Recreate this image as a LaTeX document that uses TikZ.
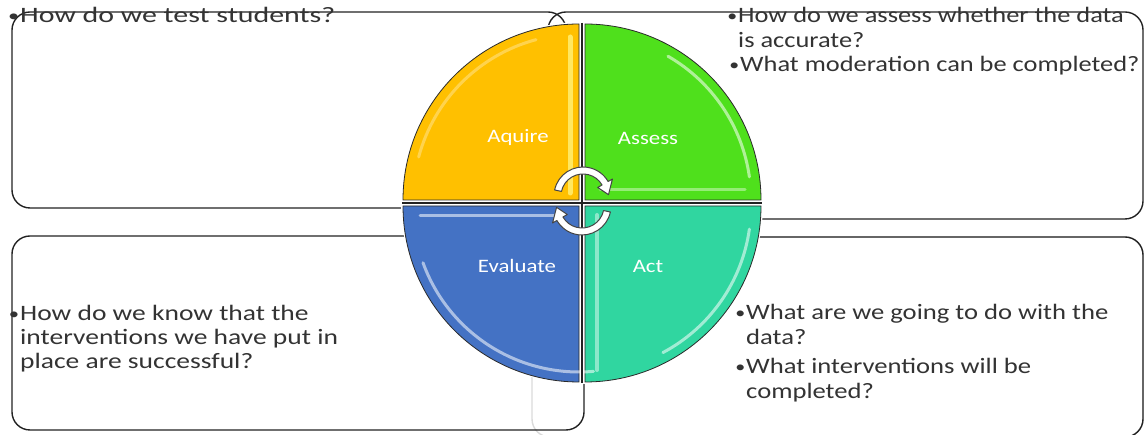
\documentclass[tikz,border=0pt]{standalone}
\usepackage{fontspec}
\setmainfont{Carlito}
\newfontfamily\tlfont[FakeStretch=1.36]{Carlito}
\newfontfamily\trfont[FakeStretch=1.2]{Carlito}
\newfontfamily\blfont[FakeStretch=1.25]{Carlito}
\newfontfamily\brfont[FakeStretch=1.21]{Carlito}
\newfontfamily\labfont[FakeStretch=1.2]{Carlito}
\usetikzlibrary{calc}
\definecolor{qorange}{HTML}{FFC000}
\definecolor{qgreen}{HTML}{4FE01C}
\definecolor{qblue}{HTML}{4472C4}
\definecolor{qteal}{HTML}{30D6A0}
\definecolor{boxline}{HTML}{222222}
\definecolor{textgray}{HTML}{333333}
\definecolor{quadline}{HTML}{2A2A2A}
\definecolor{faintline}{HTML}{DADADA}
\definecolor{arrowline}{HTML}{444444}
\definecolor{glossyellow}{HTML}{FFF27A}
\begin{document}
\begin{tikzpicture}[x=1pt,y=1pt,
  qbox/.style={draw=boxline, line width=1.4pt, rounded corners=18pt},
  txt/.style={anchor=base west, inner sep=0pt, text=textgray},
  tltxt/.style={txt, font=\tlfont\fontsize{22}{25}\selectfont},
  trtxt/.style={txt, font=\trfont\fontsize{22}{25}\selectfont},
  bltxt/.style={txt, font=\blfont\fontsize{22}{25}\selectfont},
  brtxt/.style={txt, font=\brfont\fontsize{22}{25}\selectfont},
  lab/.style={text=white, font=\labfont\fontsize{19}{22}\selectfont, inner sep=0pt},
  quad/.style={draw=quadline, line width=0.8pt},
  gloss/.style={line width=3pt, line cap=round, draw opacity=0.55},
  arrowshape/.style={fill=white, draw=arrowline, line width=1pt, line join=round}]
\useasboundingbox (0,0) rectangle (1146,435);
\clip (0,0) rectangle (1146,435);
\newcommand{\bul}{\llap{\raisebox{1.5pt}{\scalebox{0.75}{\textbullet}}\hspace{1pt}}}
% boxes
\draw[qbox] (12,227) rectangle (566,423);
\draw[qbox] (548,216) rectangle (1143,423);
\draw[qbox, draw=faintline] (532,-2) rectangle (1143,198);
\draw[qbox] (560,198) -- (1143,198) -- (1143,-2) -- (1000,-2);
\draw[qbox] (12,5) rectangle (584,199);
% texts
\node[tltxt] (tl1) at (20,412) {\bul How do we test students?};
\node[trtxt] (tr1) at (738,412) {\bul How do we assess whether the data};
\node[trtxt] (tr2) at (738,387) {is accurate?};
\node[trtxt] (tr3) at (740,363) {\bul What moderation can be completed?};
\node[bltxt] (bl1) at (20,114) {\bul How do we know that the};
\node[bltxt] (bl2) at (20,90) {interventions we have put in};
\node[bltxt] (bl3) at (20,66) {place are successful?};
\node[brtxt] (br1) at (746,115) {\bul What are we going to do with the};
\node[brtxt] (br2) at (746,90) {data?};
\node[brtxt] (br3) at (746,61) {\bul What interventions will be};
\node[brtxt] (br4) at (746,36) {completed?};
% circle
\coordinate (C) at (582,232);
\fill[white] (C) circle[radius=181];
\path[quad, fill=qorange] ($(C)+(-3,3)$) -- ++(-176,0) arc[start angle=180, end angle=90, radius=176] -- cycle;
\path[quad, fill=qgreen] ($(C)+(3,3)$) -- ++(176,0) arc[start angle=0, end angle=90, radius=176] -- cycle;
\path[quad, fill=qblue] ($(C)+(-3,-3)$) -- ++(-176,0) arc[start angle=180, end angle=270, radius=176] -- cycle;
\path[quad, fill=qteal] ($(C)+(3,-3)$) -- ++(176,0) arc[start angle=0, end angle=-90, radius=176] -- cycle;
% gloss
\draw[gloss, draw=glossyellow, line width=5pt, draw opacity=0.8] (570,398) -- (570,242);
\draw[gloss, draw=white, draw opacity=0.3] ($(C)+(-3,3)+(105:166)$) arc[start angle=105, end angle=165, radius=166];
\draw[gloss, draw=white, draw opacity=0.4] (600,245) -- (745,245);
\draw[gloss, draw=white] ($(C)+(3,3)+(8:166)$) arc[start angle=8, end angle=60, radius=166];
\draw[gloss, draw=white] (420,219) -- (560,219);
\draw[gloss, draw=white] ($(C)+(-3,-3)+(200:166)$) arc[start angle=200, end angle=275, radius=166];
\draw[gloss, draw=white, draw opacity=0.45, line width=4pt] (597,220) -- (597,65);
\draw[gloss, draw=white] ($(C)+(3,-3)+(-8:166)$) arc[start angle=-8, end angle=-62, radius=166];
% dividers
\draw[boxline, line width=1.2pt] (582,412) -- (582,52);
\draw[boxline, line width=1.2pt] (402,232) -- (762,232);
% labels
\node[lab] (aquire) at (518,297) {Aquire};
\node[lab] (assess) at (648,297) {Assess};
\node[lab] (evaluate) at (517,169) {Evaluate};
\node[lab] (act) at (648,169) {Act};
% cycle arrows
\coordinate (A1) at (583,239);
\coordinate (A2) at (582,229);
\draw[arrowshape] ($(A1)+(168:29)$) arc[start angle=168, end angle=30, radius=29]
  -- ($(A1)+(30:34)$) -- ($(A1)+(3:25.5)$) -- ($(A1)+(30:17)$) -- ($(A1)+(30:22)$)
  arc[start angle=30, end angle=168, radius=22] -- cycle;
\draw[arrowshape] ($(A2)+(-12:29)$) arc[start angle=-12, end angle=-150, radius=29]
  -- ($(A2)+(-150:34)$) -- ($(A2)+(-177:25.5)$) -- ($(A2)+(-150:17)$) -- ($(A2)+(-150:22)$)
  arc[start angle=-150, end angle=-12, radius=22] -- cycle;
\end{tikzpicture}
\end{document}
